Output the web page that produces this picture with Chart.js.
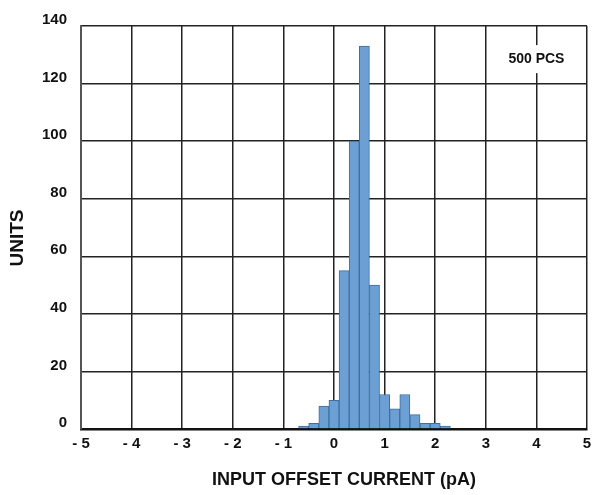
<!DOCTYPE html>
<html>
<head>
<meta charset="utf-8">
<script src="https://cdn.jsdelivr.net/npm/chart.js@4/dist/chart.umd.min.js"></script>
<style>
  html, body { margin: 0; padding: 0; background: #fff; }
  #wrap { width: 592px; height: 495px; }
</style>
</head>
<body>
<div id="wrap"><canvas id="histChart"></canvas></div>
<script>
// bin centres (pA) and counts
const binCenters = [-0.6, -0.4, -0.2, 0, 0.2, 0.4, 0.6, 0.8, 1.0, 1.2, 1.4, 1.6, 1.8, 2.0, 2.2];
const unitCounts = [1, 2, 8, 10, 55, 100, 133, 50, 12, 7, 12, 5, 2, 2, 1];
const xTicks = [-5, -4, -3, -2, -1, 0, 1, 2, 3, 4, 5];
const yTicks = [0, 20, 40, 60, 80, 100, 120, 140];
const noteText = "500 PCS";

const FONT = "'Liberation Sans', Arial, sans-serif";

// "500 PCS" label with white box behind it
const notePlugin = {
  id: 'note',
  afterDraw(chart) {
    const { ctx, scales } = chart;
    const x = scales.x.getPixelForValue(4);
    const y = scales.y.getPixelForValue(128.5);
    ctx.save();
    ctx.font = "bold 14px " + FONT;
    const w = ctx.measureText(noteText).width;
    ctx.fillStyle = '#fff';
    ctx.fillRect(x - w / 2 - 2, y - 14, w + 4, 28);
    ctx.fillStyle = '#111';
    ctx.textAlign = 'center';
    ctx.textBaseline = 'middle';
    ctx.fillText(noteText, x, y);
    ctx.restore();
  }
};

const ctx = document.getElementById('histChart');

new Chart(ctx, {
  type: 'bar',
  data: {
    datasets: [{
      data: binCenters.map((c, i) => ({ x: c, y: unitCounts[i] })),
      backgroundColor: '#6c9fd3',
      borderColor: '#3f6f9f',
      borderWidth: 1,
      barPercentage: 1,
      categoryPercentage: 1,
    }],
  },
  options: {
    responsive: true,
    maintainAspectRatio: false,
    animation: false,
    layout: { padding: { top: 26, right: 5, left: 0, bottom: 0 } },
    plugins: { legend: { display: false }, tooltip: { enabled: false } },
    scales: {
      x: {
        type: 'linear',
        min: -5,
        max: 5,
        offset: false,
        z: 1,
        afterBuildTicks: s => { s.ticks = xTicks.map(v => ({ value: v })); },
        afterFit: s => { s.height = 66; s.paddingRight = 0; s.paddingLeft = 0; },
        grid: { color: '#222', lineWidth: 1.5, drawTicks: false, offset: false },
        border: { color: '#111', width: 2.5 },
        ticks: {
          padding: 6,
          color: '#111',
          maxRotation: 0,
          font: { family: FONT, size: 15, weight: 'bold' },
          callback: v => (v < 0 ? '- ' + Math.abs(v) : String(v)),
        },
        title: {
          display: true,
          text: '    INPUT OFFSET CURRENT (pA)',
          color: '#111',
          font: { family: FONT, size: 18, weight: 'bold' },
          padding: { top: 0, bottom: 4 },
        },
      },
      y: {
        min: 0,
        max: 140,
        z: 1,
        afterBuildTicks: s => { s.ticks = yTicks.map(v => ({ value: v })); },
        afterFit: s => { s.width = 81; },
        grid: { color: '#222', lineWidth: 1.5, drawTicks: false },
        border: { color: '#555', width: 2 },
        ticks: {
          padding: 14,
          labelOffset: -6,
          color: '#111',
          font: { family: FONT, size: 15, weight: 'bold' },
        },
        title: {
          display: true,
          text: 'UNITS    ',
          color: '#111',
          font: { family: FONT, size: 19, weight: 'bold' },
          padding: { top: 6, bottom: 0 },
        },
      },
    },
  },
  plugins: [notePlugin],
});
</script>
</body>
</html>
